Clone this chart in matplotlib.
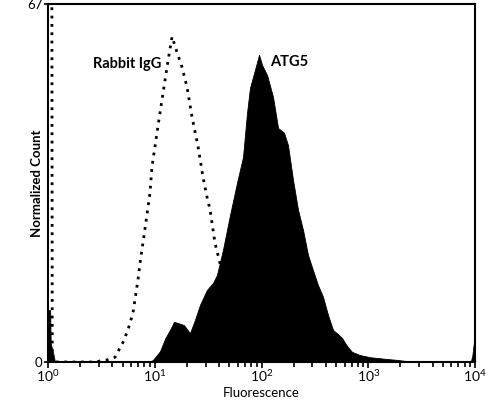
import matplotlib
matplotlib.use('Agg')
import matplotlib.pyplot as plt
import numpy as np

plt.rcParams['font.family'] = ['Lato', 'DejaVu Sans']
plt.rcParams['mathtext.default'] = 'regular'

# ATG5 histogram (exponent of fluorescence, normalized count)
atg5_exp = [0.0, 0.02, 0.025, 0.05, 0.065, 0.95, 0.984, 1.049, 1.10, 1.143, 1.18, 1.218, 1.274,
            1.330, 1.377, 1.424, 1.489, 1.546, 1.583, 1.639, 1.705, 1.770, 1.827,
            1.864, 1.892, 1.939, 1.977, 2.005, 2.052, 2.108, 2.155, 2.211, 2.248,
            2.295, 2.342, 2.389, 2.436, 2.482, 2.529, 2.576, 2.623, 2.670, 2.717,
            2.754, 2.801, 2.848, 2.923, 3.016, 3.157, 3.269, 3.39, 3.48, 3.96,
            3.975, 3.99, 4.0]
atg5_count = [9.7, 9.7, 3.5, 1.5, 0.0, 0.0, 0.4, 2.0, 4.5, 6.0, 7.5, 7.3, 6.9,
              5.4, 7.9, 10.7, 13.5, 14.8, 16.3, 21.0, 27.5, 33.5, 38.4,
              46.6, 51.3, 54.7, 57.5, 55.6, 53.7, 49.6, 43.8, 42.9, 40.6,
              34.1, 28.5, 24.7, 20.0, 17.2, 14.4, 12.2, 8.8, 6.0, 5.2,
              4.5, 3.0, 1.9, 1.3, 0.9, 0.6, 0.4, 0.1, 0.0, 0.0,
              1.2, 3.7, 3.7]

# Rabbit IgG isotype control (dotted outline)
igg_exp = [0.0, 0.035, 0.04, 0.45, 0.487, 0.553, 0.628, 0.703, 0.749, 0.796, 0.843,
           0.862, 0.909, 0.955, 0.974, 1.021, 1.068, 1.115, 1.162, 1.208, 1.255,
           1.302, 1.349, 1.405, 1.452, 1.489, 1.518, 1.564, 1.611, 1.686, 1.761,
           1.845, 1.939, 2.0]
igg_count = [90, 90, 0.0, 0.0, 0.2, 0.4, 0.9, 3.7, 6.0, 9.2, 15.4,
             18.5, 25.0, 31.6, 36.5, 42.9, 49.1, 55.2, 60.9, 58.0, 55.2,
             51.5, 45.9, 40.4, 34.6, 30.9, 28.5, 22.3, 18.5, 12.0, 6.0,
             2.0, 0.5, 0.0]

atg5_x = 10 ** np.array(atg5_exp)
igg_x = 10 ** np.array(igg_exp)

fig = plt.figure(figsize=(5, 4), dpi=100)
ax = fig.add_axes([0.096, 0.095, 0.854, 0.895])

ax.fill_between(atg5_x, 0, atg5_count, color='black', linewidth=0.6, edgecolor='black')
ax.plot(igg_x, igg_count, color='black', linestyle=(0, (1, 2)), linewidth=2)

ax.set_xscale('log')
ax.set_xlim(1, 1e4)
ax.set_ylim(0, 67)
ax.set_yticks([0, 67])
ax.tick_params(axis='x', which='major', length=4.5, width=1.2, labelsize=10, pad=0)
ax.tick_params(axis='x', which='minor', length=3.5, width=1.2)
ax.tick_params(axis='y', length=3, width=1.2, labelsize=9.5, pad=1)
for s in ax.spines.values():
    s.set_linewidth(1.5)

ax.set_xlabel('Fluorescence', fontsize=9.5, va='bottom')
ax.xaxis.set_label_coords(0.5, -0.104)
ax.set_ylabel('Normalized Count', fontsize=9.5, fontweight='bold')
ax.yaxis.set_label_coords(-0.012, 0.5)

ax.text(10 ** 0.74, 55.8, 'Rabbit IgG', fontsize=10.5, fontweight='bold', ha='center', va='center')
ax.text(10 ** 2.26, 56.1, 'ATG5', fontsize=10.5, fontweight='bold', ha='center', va='center')

fig.savefig('out.png', dpi=100)
